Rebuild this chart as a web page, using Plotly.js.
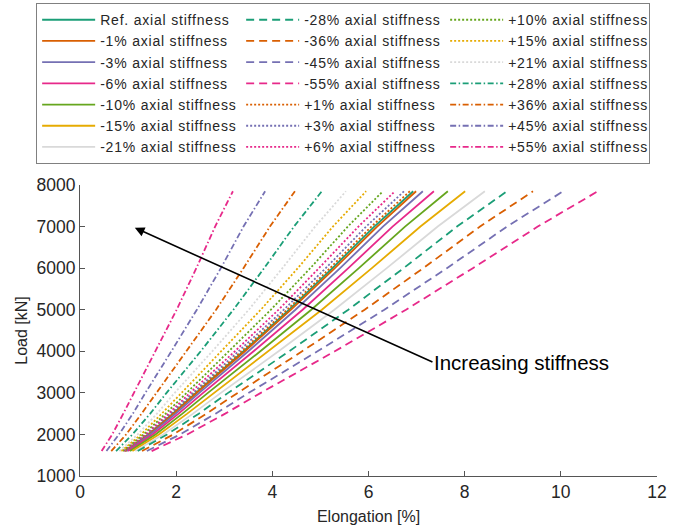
<!DOCTYPE html>
<html>
<head>
<meta charset="utf-8">
<script src="https://cdn.plot.ly/plotly-3.0.1.min.js"></script>
<style>
html,body{margin:0;padding:0;background:#fff;}
#chart{width:687px;height:531px;}
#chart .legendtext{letter-spacing:0.8px;}
</style>
</head>
<body>
<div id="chart"></div>
<script>
// Load levels [kN]
const load = [1600, 2000, 2500, 3000, 4000, 5000, 6000, 7000, 7850];

// Elongation [%] for each stiffness case
const eRef  = [0.94, 1.42, 1.93, 2.41, 3.40, 4.35, 5.25, 6.12, 6.93];
const eM1   = [0.95, 1.43, 1.95, 2.43, 3.43, 4.39, 5.30, 6.18, 6.99];
const eM3   = [0.97, 1.46, 1.99, 2.48, 3.50, 4.48, 5.41, 6.30, 7.13];
const eM6   = [1.00, 1.51, 2.05, 2.56, 3.61, 4.63, 5.58, 6.50, 7.36];
const eM10  = [1.04, 1.57, 2.13, 2.66, 3.75, 4.81, 5.80, 6.76, 7.65];
const eM15  = [1.09, 1.64, 2.23, 2.79, 3.93, 5.03, 6.07, 7.08, 8.01];
const eM21  = [1.15, 1.73, 2.35, 2.93, 4.13, 5.29, 6.38, 7.44, 8.42];
const eM28  = [1.20, 1.81, 2.47, 3.08, 4.35, 5.58, 6.73, 7.84, 8.88];
const eM36  = [1.29, 1.94, 2.63, 3.28, 4.62, 5.92, 7.14, 8.32, 9.42];
const eM45  = [1.39, 2.08, 2.82, 3.51, 4.94, 6.33, 7.63, 8.88, 10.05];
const eM55  = [1.49, 2.23, 3.02, 3.76, 5.30, 6.78, 8.17, 9.52, 10.77];
const eP1   = [0.93, 1.40, 1.91, 2.38, 3.36, 4.31, 5.20, 6.06, 6.86];
const eP3   = [0.92, 1.39, 1.88, 2.35, 3.31, 4.24, 5.11, 5.95, 6.74];
const eP6   = [0.91, 1.36, 1.84, 2.29, 3.22, 4.13, 4.97, 5.79, 6.55];
const eP10  = [0.89, 1.32, 1.78, 2.22, 3.11, 3.97, 4.79, 5.57, 6.30];
const eP15  = [0.86, 1.27, 1.70, 2.11, 2.95, 3.76, 4.53, 5.26, 5.95];
const eP21  = [0.82, 1.20, 1.60, 1.97, 2.75, 3.51, 4.21, 4.89, 5.53];
const eP28  = [0.75, 1.09, 1.46, 1.80, 2.51, 3.19, 3.83, 4.45, 5.03];
const eP36  = [0.65, 0.96, 1.28, 1.59, 2.22, 2.83, 3.40, 3.95, 4.47];
const eP45  = [0.55, 0.81, 1.10, 1.36, 1.90, 2.43, 2.93, 3.40, 3.85];
const eP55  = [0.45, 0.67, 0.90, 1.12, 1.57, 2.01, 2.42, 2.81, 3.18];

const names = ["Ref. axial stiffness","-1% axial stiffness","-3% axial stiffness","-6% axial stiffness",
  "-10% axial stiffness","-15% axial stiffness","-21% axial stiffness","-28% axial stiffness",
  "-36% axial stiffness","-45% axial stiffness","-55% axial stiffness","+1% axial stiffness",
  "+3% axial stiffness","+6% axial stiffness","+10% axial stiffness","+15% axial stiffness",
  "+21% axial stiffness","+28% axial stiffness","+36% axial stiffness","+45% axial stiffness",
  "+55% axial stiffness"];
const series = [eRef,eM1,eM3,eM6,eM10,eM15,eM21,eM28,eM36,eM45,eM55,eP1,eP3,eP6,eP10,eP15,eP21,eP28,eP36,eP45,eP55];
const palette = ["#1b9e77","#d95f02","#7570b3","#e7298a","#66a61e","#e6ab02","#d9d9d9"];
const colorIdx = [0,1,2,3,4,5,6,0,1,2,3,1,2,3,4,5,6,0,1,2,3];
const dashStyles = {solid: "solid", dash: "8px,5px", dot: "2px,2px", dashdot: "6px,2.5px,1.5px,2.5px"};
const dashes = ["solid","solid","solid","solid","solid","solid","solid","dash","dash","dash","dash",
  "dot","dot","dot","dot","dot","dot","dashdot","dashdot","dashdot","dashdot"];

const traces = series.map((e, i) => {
  const col = Math.floor(i / 7), row = i % 7;
  return {
    x: e, y: load, type: "scatter", mode: "lines", name: names[i],
    line: {color: palette[colorIdx[i]], width: 1.8, dash: dashStyles[dashes[i]]},
    legendrank: row * 3 + col + 1
  };
});

const axisCol = "#262626";
const layout = {
  width: 687, height: 531,
  margin: {l: 80, r: 30, t: 185, b: 55, autoexpand: false},
  paper_bgcolor: "#fff", plot_bgcolor: "#fff",
  font: {family: "Liberation Sans, Arial, sans-serif", size: 15, color: axisCol},
  showlegend: true,
  legend: {
    orientation: "h", x: -0.076, xanchor: "left", y: 1.625, yanchor: "top",
    entrywidth: 136, entrywidthmode: "pixels", itemwidth: 53,
    bordercolor: "#808080", borderwidth: 1, bgcolor: "#fff",
    font: {size: 14, color: axisCol}, traceorder: "normal"
  },
  xaxis: {
    range: [0, 12], dtick: 2, ticks: "inside", ticklen: 5, tickcolor: "#555",
    showline: true, linecolor: "#555", linewidth: 1, showgrid: false, zeroline: false,
    tickfont: {size: 17.5, color: axisCol},
    title: {text: "Elongation [%]", font: {size: 16, color: axisCol}, standoff: 9}
  },
  yaxis: {
    range: [1000, 8000], dtick: 1000, ticks: "inside", ticklen: 5, tickcolor: "#555",
    showline: true, linecolor: "#555", linewidth: 1, showgrid: false, zeroline: false,
    tickfont: {size: 17.5, color: axisCol},
    title: {text: "Load [kN]", font: {size: 16, color: axisCol}, standoff: 4}
  },
  annotations: [{
    x: 1.14, y: 6970, xref: "x", yref: "y",
    ax: 7.33, ay: 3740, axref: "x", ayref: "y",
    text: "Increasing stiffness", xanchor: "left", yanchor: "middle",
    font: {size: 20.5, color: "#000"},
    showarrow: true, arrowhead: 2, arrowsize: 1.2, arrowwidth: 1.6, arrowcolor: "#000"
  }]
};

Plotly.newPlot("chart", traces, layout, {displayModeBar: false, staticPlot: true});
</script>
</body>
</html>
